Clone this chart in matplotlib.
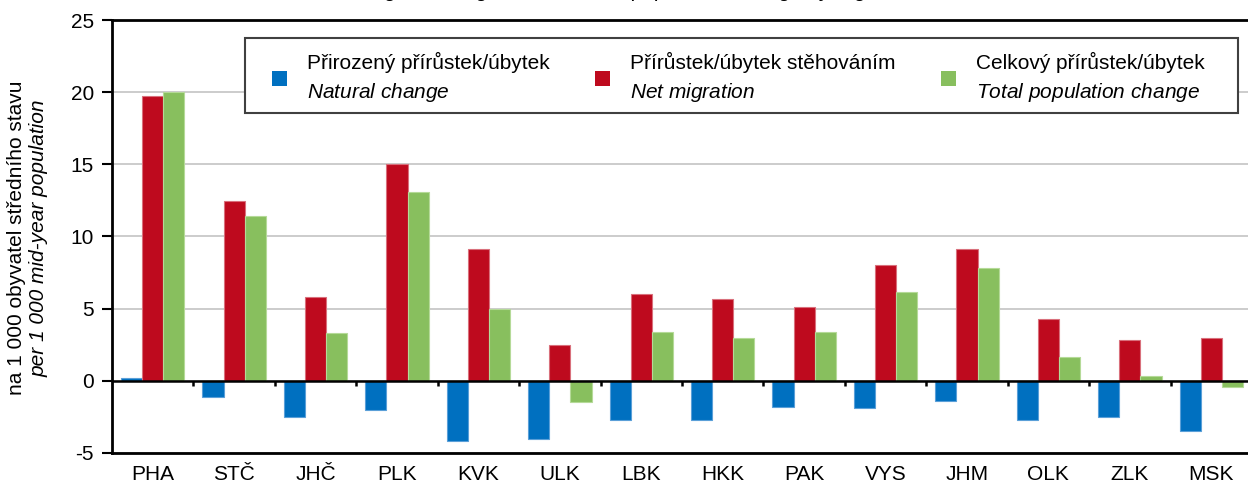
"""Population change by regions - grouped bar chart."""
import numpy as np
import matplotlib
matplotlib.use('Agg')
from matplotlib import pyplot as plt
from matplotlib.patches import Patch, Rectangle

regions = ['PHA', 'STČ', 'JHČ', 'PLK', 'KVK', 'ULK', 'LBK',
           'HKK', 'PAK', 'VYS', 'JHM', 'OLK', 'ZLK', 'MSK']
natural = [0.2, -1.1, -2.5, -2.0, -4.2, -4.0, -2.7,
           -2.7, -1.8, -1.9, -1.4, -2.7, -2.5, -3.5]
migration = [19.7, 12.45, 5.8, 15.0, 9.1, 2.45, 6.05,
             5.65, 5.1, 8.05, 9.15, 4.3, 2.8, 3.0]
total = [20.0, 11.4, 3.3, 13.1, 5.0, -1.5, 3.4,
         3.0, 3.35, 6.15, 7.8, 1.65, 0.35, -0.45]

labels = ['Přirozený přírůstek/úbytek\n$\\mathit{Natural\\ change}$',
          'Přírůstek/úbytek stěhováním\n$\\mathit{Net\\ migration}$',
          'Celkový přírůstek/úbytek\n$\\mathit{Total\\ population\\ change}$']
colors = ['#0070C0', '#BE0A1E', '#88BF5E']
edges = ['#5A9FD8', '#D9707C', '#B5DA98']

plt.rcParams['font.family'] = ['Liberation Sans', 'DejaVu Sans']
plt.rcParams['mathtext.fontset'] = 'custom'
plt.rcParams['mathtext.rm'] = 'Liberation Sans'
plt.rcParams['mathtext.it'] = 'Liberation Sans:italic'
plt.rcParams['axes.unicode_minus'] = False
plt.rcParams['font.size'] = 15

fig = plt.figure(figsize=(12.48, 4.87), dpi=100)
ax = fig.add_axes([112 / 1248, 1 - 453 / 487, 1140 / 1248, 433 / 487])

x = np.arange(len(regions))
w = 0.26
for i, vals in enumerate([natural, migration, total]):
    ax.bar(x + (i - 1) * w, vals, w, color=colors[i], edgecolor=edges[i],
           linewidth=0.8, zorder=3)

ax.set_xlim(-0.5, len(regions) - 0.5)
ax.set_ylim(-5, 25)
ax.set_yticks(range(-5, 26, 5))
ax.yaxis.grid(True, color='#C8C8C8', linewidth=1.3, zorder=0)
ax.axhline(0, color='black', linewidth=1.8, zorder=4)
ax.vlines(x[:-1] + 0.5, -0.35, 0, color='black', linewidth=1.8, zorder=4)

ax.set_xticks(x)
ax.set_xticklabels(regions)
ax.tick_params(axis='x', length=0, pad=9)
ax.tick_params(axis='y', length=7, width=1.5, direction='out', pad=6)
for s in ['left', 'top', 'bottom']:
    ax.spines[s].set_linewidth(2)
ax.spines['right'].set_visible(False)

# legend box drawn separately so the padding matches the original
box = Rectangle((245 / 1248, 1 - 113 / 487), 993 / 1248, 75 / 487,
                transform=fig.transFigure, facecolor='white',
                edgecolor='#404040', linewidth=1.5, zorder=5, clip_on=False)
ax.add_patch(box)

handles = [Patch(facecolor=c) for c in colors]
leg = ax.legend(handles, labels, ncol=3, loc='center left',
                bbox_to_anchor=(272 / 1248, 1 - 78 / 487),
                bbox_transform=fig.transFigure, frameon=False, fontsize=15,
                handlelength=0.72, handleheight=0.72, handletextpad=0.98,
                columnspacing=2.15, borderpad=0, borderaxespad=0)
for t in leg.get_texts():
    t.set_linespacing(1.45)
leg.set_zorder(6)

fig.text(17 / 1248, 1 - 238 / 487, 'na 1 000 obyvatel středního stavu',
         rotation=90, ha='center', va='center', fontsize=15)
fig.text(39 / 1248, 1 - 238 / 487, 'per 1 000 mid-year population',
         rotation=90, ha='center', va='center', fontsize=15, style='italic')
fig.text(0.47, 1 + 3 / 487, 'Natural change, net migration and total population change by regions',
         ha='center', va='baseline', fontsize=15, style='italic')

fig.savefig('out.png', dpi=100)
